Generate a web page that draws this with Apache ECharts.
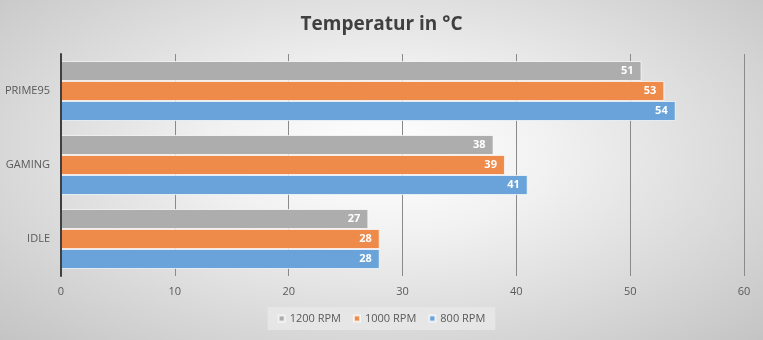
<!DOCTYPE html>
<html><head><meta charset="utf-8">
<script src="https://cdn.jsdelivr.net/npm/echarts@6/dist/echarts.min.js"></script>
<style>
html,body{margin:0;padding:0;}
#c{width:763px;height:340px;background:radial-gradient(ellipse at 50% 45%, #ffffff 0%, #f2f2f2 30%, #c4c4c4 100%);}
</style></head>
<body><div id="c"></div>
<script>
const categories = ['IDLE', 'GAMING', 'PRIME95'];
const seriesNames = ['1200 RPM', '1000 RPM', '800 RPM'];
const rpm1200 = [27, 38, 51];
const rpm1000 = [28, 39, 53];
const rpm800 = [28, 41, 54];
const xTicks = [0, 10, 20, 30, 40, 50, 60];

const colors = {'800 RPM': '#6aa3d9', '1000 RPM': '#ee8a4a', '1200 RPM': '#adadad'};
const dataMap = {'800 RPM': rpm800, '1000 RPM': rpm1000, '1200 RPM': rpm1200};

const chart = echarts.init(document.getElementById('c'), null, {renderer: 'canvas'});
chart.setOption({
  backgroundColor: 'transparent',
  animation: false,
  title: {
    text: 'Temperatur in °C', left: 'center', top: 10,
    textStyle: {fontFamily: 'Open Sans', fontWeight: 'bold', fontSize: 19, color: '#404040'}
  },
  legend: {
    data: seriesNames.map(n => ({name: n, icon: 'rect'})),
    bottom: 10, left: 'center',
    itemWidth: 6, itemHeight: 6, itemGap: 12,
    backgroundColor: 'rgba(232,232,232,0.85)', padding: [6, 10],
    textStyle: {fontFamily: 'Open Sans', fontSize: 11, color: '#595959'}
  },
  grid: {left: 61, right: 19, top: 54, bottom: 64, containLabel: false},
  xAxis: {
    type: 'value', min: xTicks[0], max: xTicks[xTicks.length - 1], interval: 10,
    axisLine: {show: false}, axisTick: {show: false},
    splitLine: {show: true, lineStyle: {color: '#8a8a8a', width: 1}},
    axisLabel: {fontFamily: 'Open Sans', fontSize: 11, color: '#595959', margin: 10}
  },
  yAxis: {
    type: 'category', data: categories, z: 5,
    axisLine: {show: true, lineStyle: {color: '#404040', width: 2}},
    axisTick: {show: false},
    axisLabel: {fontFamily: 'Open Sans', fontSize: 11, color: '#595959', margin: 11}
  },
  series: seriesNames.map(n => ({
    name: n, type: 'bar', data: dataMap[n],
    barGap: '0%', barCategoryGap: '19%',
    itemStyle: {color: colors[n], borderColor: 'rgba(255,255,255,0.7)', borderWidth: 1},
    label: {show: true, position: 'insideRight', color: '#ffffff', fontWeight: 'bold',
      fontFamily: 'Open Sans', fontSize: 11, distance: 8}
  }))
});
</script></body></html>
